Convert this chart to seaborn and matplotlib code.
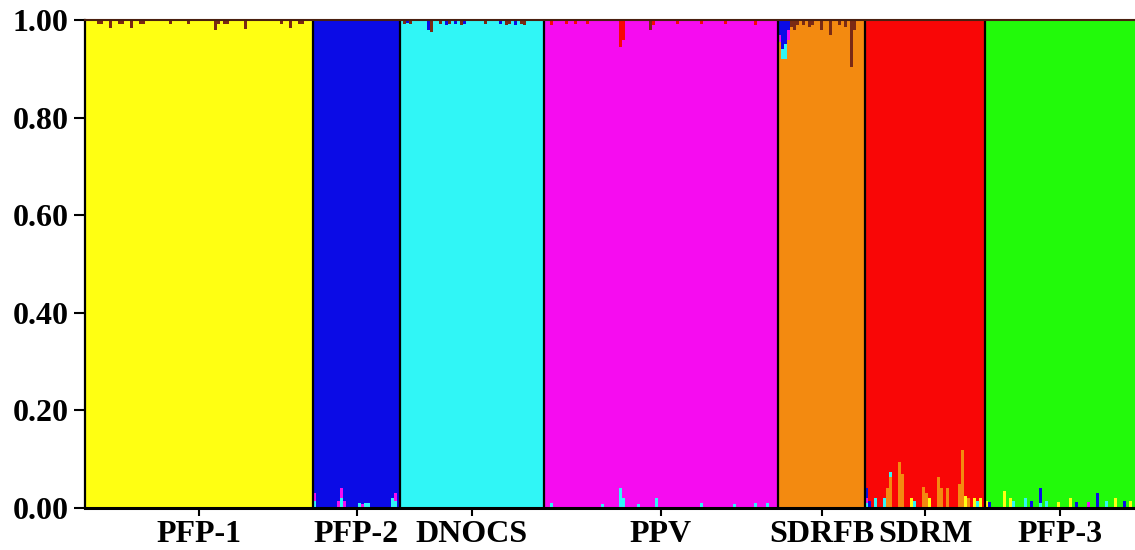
import matplotlib
matplotlib.use("Agg")
import matplotlib.pyplot as plt
import pandas as pd
import seaborn as sns

# populations, sample sizes and the cluster each one belongs to
groups = ["PFP-1", "PFP-2", "DNOCS", "PPV", "SDRFB", "SDRM", "PFP-3"]
n_ind = [76, 29, 48, 78, 29, 40, 50]
main_k = ["K1", "K2", "K3", "K4", "K5", "K6", "K7"]

# minor memberships: (individual, cluster, q)
adm_pfp1 = [(4, "K8", 0.008), (5, "K8", 0.008), (8, "K8", 0.016), (11, "K8", 0.008),
            (12, "K8", 0.008), (15, "K8", 0.016), (18, "K8", 0.008), (19, "K8", 0.008),
            (28, "K8", 0.008), (34, "K8", 0.008), (43, "K8", 0.02), (44, "K8", 0.008),
            (46, "K8", 0.008), (47, "K8", 0.008), (53, "K8", 0.018), (65, "K8", 0.008),
            (68, "K8", 0.016), (71, "K8", 0.008), (72, "K8", 0.008)]
adm_pfp2 = [(0, "K4", 0.015), (0, "K3", 0.015), (8, "K4", 0.015), (9, "K4", 0.02),
            (9, "K3", 0.02), (10, "K4", 0.015), (15, "K3", 0.01), (16, "K4", 0.008),
            (17, "K3", 0.01), (18, "K3", 0.01), (26, "K3", 0.02), (27, "K4", 0.015),
            (27, "K3", 0.015)]
adm_dnocs = [(1, "K8", 0.008), (2, "K2", 0.006), (3, "K8", 0.008), (9, "K2", 0.02),
             (10, "K8", 0.025), (13, "K8", 0.008), (15, "K2", 0.01), (16, "K8", 0.008),
             (18, "K2", 0.008), (20, "K8", 0.01), (21, "K2", 0.008), (28, "K8", 0.008),
             (33, "K2", 0.008), (35, "K8", 0.01), (36, "K8", 0.008), (38, "K2", 0.01),
             (40, "K8", 0.008), (41, "K8", 0.01)]
adm_ppv = [(2, "K6", 0.01), (7, "K6", 0.008), (10, "K6", 0.008), (14, "K6", 0.008),
           (25, "K6", 0.055), (26, "K6", 0.04), (35, "K8", 0.02), (36, "K6", 0.01),
           (44, "K6", 0.008), (52, "K6", 0.008), (60, "K6", 0.008), (70, "K6", 0.01),
           (2, "K3", 0.01), (19, "K3", 0.008), (25, "K3", 0.04), (26, "K3", 0.02),
           (31, "K3", 0.008), (37, "K3", 0.02), (52, "K3", 0.01), (63, "K3", 0.008),
           (70, "K3", 0.01), (74, "K3", 0.01)]
adm_sdrfb = [(0, "K4", 0.015), (0, "K2", 0.03), (1, "K2", 0.06), (1, "K3", 0.02),
             (2, "K2", 0.05), (2, "K3", 0.03), (3, "K4", 0.02), (3, "K2", 0.02),
             (4, "K8", 0.015), (5, "K8", 0.02), (6, "K8", 0.01), (8, "K8", 0.01),
             (10, "K8", 0.015), (11, "K8", 0.01), (14, "K8", 0.02), (17, "K8", 0.03),
             (20, "K8", 0.01), (22, "K8", 0.015), (24, "K8", 0.097), (25, "K8", 0.02)]
adm_sdrm = [(0, "K2", 0.02), (0, "K4", 0.01), (0, "K3", 0.01), (1, "K2", 0.015),
            (3, "K3", 0.02), (6, "K3", 0.02), (7, "K5", 0.04), (8, "K5", 0.064),
            (8, "K3", 0.01), (11, "K5", 0.094), (12, "K5", 0.07), (15, "K1", 0.02),
            (16, "K3", 0.015), (19, "K5", 0.043), (20, "K5", 0.03), (21, "K1", 0.02),
            (24, "K5", 0.064), (25, "K5", 0.04), (27, "K5", 0.04), (32, "K5", 0.119),
            (31, "K5", 0.05), (33, "K1", 0.025), (34, "K5", 0.02), (36, "K1", 0.02),
            (37, "K3", 0.015), (38, "K1", 0.02)]
adm_pfp3 = [(0, "K1", 0.015), (1, "K2", 0.012), (6, "K1", 0.035), (8, "K1", 0.02),
            (9, "K3", 0.015), (13, "K3", 0.02), (15, "K2", 0.015), (18, "K2", 0.03),
            (18, "K3", 0.01), (20, "K3", 0.015), (24, "K1", 0.012), (28, "K1", 0.02),
            (30, "K2", 0.012), (34, "K4", 0.012), (37, "K2", 0.03), (40, "K3", 0.015),
            (43, "K1", 0.02), (46, "K2", 0.015), (48, "K1", 0.015)]
admix = [adm_pfp1, adm_pfp2, adm_dnocs, adm_ppv, adm_sdrfb, adm_sdrm, adm_pfp3]

# stacking order: first level on top of each bar, last level at the bottom
clusters = ["K8", "K7", "K6", "K2", "K4", "K3", "K5", "K1"]
colors = {"K1": "#FFFF12", "K2": "#0B0BE6", "K3": "#30F6F6", "K4": "#F60CF0",
          "K5": "#F38A10", "K6": "#F90606", "K7": "#22FA0A", "K8": "#7A2A14"}

rows = []
offset = 0
starts = []
for g, n, k, adm in zip(groups, n_ind, main_k, admix):
    starts.append(offset)
    for i in range(n):
        minor = [(c, q) for (j, c, q) in adm if j == i]
        rest = 1.0 - sum(q for _, q in minor)
        rows.append({"ind": offset + i, "k": k, "q": rest})
        for c, q in minor:
            rows.append({"ind": offset + i, "k": c, "q": q})
    offset += n
total = offset
df = pd.DataFrame(rows)

sns.set_style("ticks")
plt.rcParams["font.family"] = ["Liberation Serif", "DejaVu Serif"]

fig = plt.figure(figsize=(11.35, 5.5), dpi=100)
ax = fig.add_axes([85 / 1135, 42 / 550, 1050 / 1135, 488 / 550])

sns.histplot(df, x="ind", weights="q", hue="k", hue_order=clusters, palette=colors,
             multiple="stack", discrete=True, shrink=1, alpha=1, linewidth=0,
             legend=False, ax=ax)
for p in ax.patches:
    p.set_linewidth(0)
    p.set_antialiased(False)

# population separators
for s in starts[1:]:
    ax.axvline(s - 0.5, color="black", lw=1.6)

ax.set_xlim(-0.5, total - 0.5)
ax.set_ylim(0, 1)
ax.set_xlabel("")
ax.set_ylabel("")

centers = [s + (n - 1) / 2 for s, n in zip(starts, n_ind)]
ax.set_xticks(centers)
ax.set_xticklabels(groups, fontsize=23, fontweight="bold")
yt = [0.0, 0.2, 0.4, 0.6, 0.8, 1.0]
ax.set_yticks(yt)
ax.set_yticklabels([f"{v:.2f}" for v in yt], fontsize=23, fontweight="bold")
ax.tick_params(axis="y", length=8, width=1.5, pad=4, colors="black")
ax.tick_params(axis="x", length=6, width=1.5, pad=3, colors="black")

ax.spines["right"].set_visible(False)
ax.spines["top"].set_color("#4a2010")
ax.spines["top"].set_linewidth(1.5)
ax.spines["left"].set_linewidth(1.6)
ax.spines["bottom"].set_linewidth(2.2)
ax.spines["left"].set_color("black")
ax.spines["bottom"].set_color("black")

fig.savefig("out.png", dpi=100)
